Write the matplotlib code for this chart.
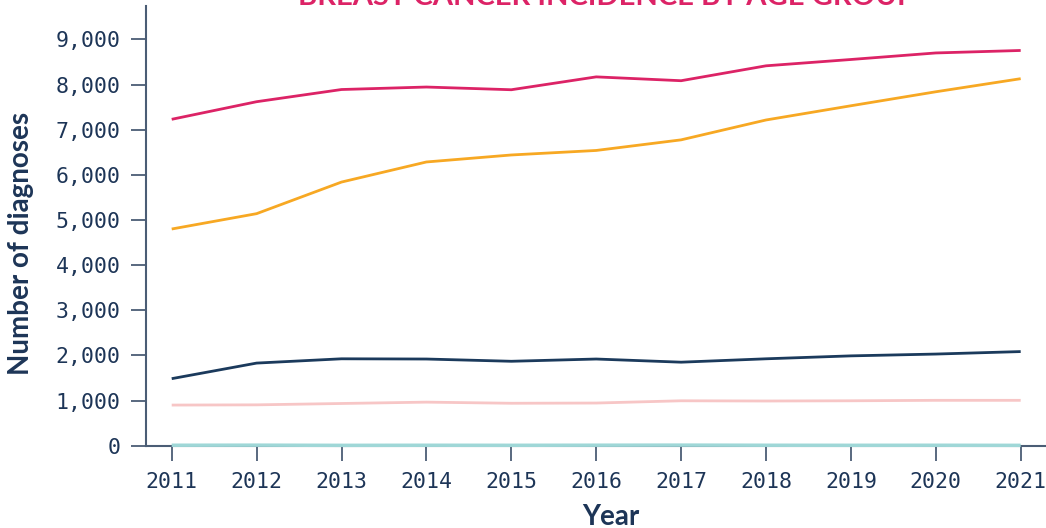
import matplotlib
matplotlib.use("Agg")
import matplotlib.pyplot as plt
from matplotlib.ticker import FuncFormatter

years = [2011, 2012, 2013, 2014, 2015, 2016, 2017, 2018, 2019, 2020, 2021]
series_pink = [7230, 7620, 7890, 7945, 7885, 8170, 8085, 8415, 8555, 8700, 8755]
series_orange = [4800, 5140, 5840, 6285, 6440, 6540, 6775, 7215, 7530, 7840, 8130]
series_navy = [1485, 1830, 1925, 1920, 1870, 1920, 1850, 1925, 1990, 2030, 2085]
series_lightpink = [900, 905, 935, 965, 940, 945, 995, 990, 995, 1005, 1005]
series_teal = [10, 12, 8, 10, 9, 11, 13, 10, 9, 10, 8]
yticks = [0, 1000, 2000, 3000, 4000, 5000, 6000, 7000, 8000, 9000]

title = "BREAST CANCER INCIDENCE BY AGE GROUP"
navy = "#1d3557"
spine_col = "#4b5d75"

fig = plt.figure(figsize=(10.46, 5.28), dpi=100)
ax = fig.add_axes([145.7/1046, 1-445.7/528, 1-145.7/1046, (445.7-6)/528])

ax.plot(years, series_teal, color="#9fd7d7", lw=2.5, solid_capstyle="butt", zorder=3, clip_on=False)
ax.plot(years, series_lightpink, color="#f7c6c6", lw=2.0, solid_capstyle="butt")
ax.plot(years, series_navy, color="#1b3a5c", lw=2.0, solid_capstyle="butt")
ax.plot(years, series_orange, color="#f7a823", lw=2.0, solid_capstyle="butt")
ax.plot(years, series_pink, color="#dc2366", lw=2.0, solid_capstyle="butt")

ax.set_xlim(2011 - 26/84.87, 2011 + (1046-172)/84.87)
ax.set_ylim(0, 9740)
ax.set_xticks(years)
ax.set_yticks(yticks)
ax.yaxis.set_major_formatter(FuncFormatter(lambda v, p: f"{int(v):,}"))

for s in ["top", "right"]:
    ax.spines[s].set_visible(False)
for s in ["left", "bottom"]:
    ax.spines[s].set_color(spine_col)
    ax.spines[s].set_linewidth(1.5)

ax.tick_params(axis="both", length=11, width=1.3, color=spine_col,
               labelcolor=navy, labelsize=15.5)
ax.tick_params(axis="y", pad=7)
ax.tick_params(axis="x", pad=8)
for lab in ax.get_xticklabels() + ax.get_yticklabels():
    lab.set_fontfamily("DejaVu Sans Mono")

fig.text(21/1046, 1-243/528, "Number of diagnoses", rotation=90, ha="center", va="center",
         fontsize=20, fontweight="bold", color=navy, family="Lato")
fig.text(611/1046, 1-517/528, "Year", ha="center", va="center",
         fontsize=20, fontweight="bold", color=navy, family="Lato")
fig.text(606/1046, 1-5/528, title, ha="center", va="baseline",
         fontsize=21, fontweight="bold", color="#dc2366", family="Lato")

fig.savefig("out.png", dpi=100)
